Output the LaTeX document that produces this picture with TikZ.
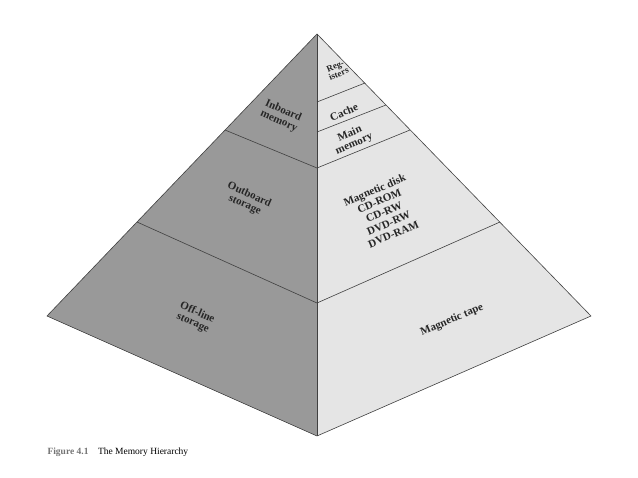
\documentclass[tikz,border=0pt]{standalone}
\usepackage{fontspec}
\setmainfont{Liberation Serif}
\begin{document}
\begin{tikzpicture}[x=1pt,y=1pt,
  edge/.style={draw=black!75,line width=0.6pt,line join=round},
  lt/.style={font=\bfseries\fontsize{11}{11}\selectfont,align=center,text=black!85,transform shape},
  rt/.style={font=\bfseries\fontsize{11}{11}\selectfont,align=center,text=black!85,transform shape}]
\useasboundingbox (0,0) rectangle (638,-478);
\coordinate (A) at (317,-34);
\coordinate (L) at (47,-316);
\coordinate (B) at (317,-436);
\coordinate (R) at (591,-316);
\fill[black!40] (A) -- (L) -- (B) -- cycle;
\fill[black!10] (A) -- (R) -- (B) -- cycle;
\draw[edge] (A) -- (L) -- (B) -- (R) -- cycle;
\draw[edge] (A) -- (B);
% bands
\draw[edge] (225,-130) -- (317,-168) -- (410,-130);
\draw[edge] (137,-222) -- (317,-303) -- (500,-222);
\draw[edge] (317,-102) -- (365,-83);
\draw[edge] (317,-132) -- (386,-105);
% labels
\begin{scope}[rotate around={-24:(281,-116)}]\node[lt] (t1) at (281,-116) {Inboard\\memory};\end{scope}
\begin{scope}[rotate around={-24:(247,-200)}]\node[lt] (t2) at (247,-200) {Outboard\\storage};\end{scope}
\begin{scope}[rotate around={-24:(195,-318)}]\node[lt] (t3) at (195,-318) {Off-line\\storage};\end{scope}
\begin{scope}[rotate around={23:(337,-70)}]\node[rt,font=\bfseries\fontsize{9}{8.5}\selectfont] (t4) at (337,-70) {Reg-\\isters};\end{scope}
\begin{scope}[rotate around={23:(344,-112)}]\node[rt] (t5) at (344,-112) {Cache};\end{scope}
\begin{scope}[rotate around={23:(352,-139)}]\node[rt] (t6) at (352,-139) {Main\\memory};\end{scope}
\begin{scope}[rotate around={23:(384,-212)}]\node[rt,font=\bfseries\fontsize{11}{12}\selectfont] (t7) at (384,-212) {Magnetic disk\\CD-ROM\\CD-RW\\DVD-RW\\DVD-RAM};\end{scope}
\begin{scope}[rotate around={23:(452,-320)}]\node[rt] (t8) at (452,-320) {Magnetic tape};\end{scope}
\node[anchor=west,font=\fontsize{9.5}{10}\selectfont] (cap) at (44,-452) {\textcolor{black!55}{\textbf{Figure 4.1}}\quad The Memory Hierarchy};
\end{tikzpicture}
\end{document}
